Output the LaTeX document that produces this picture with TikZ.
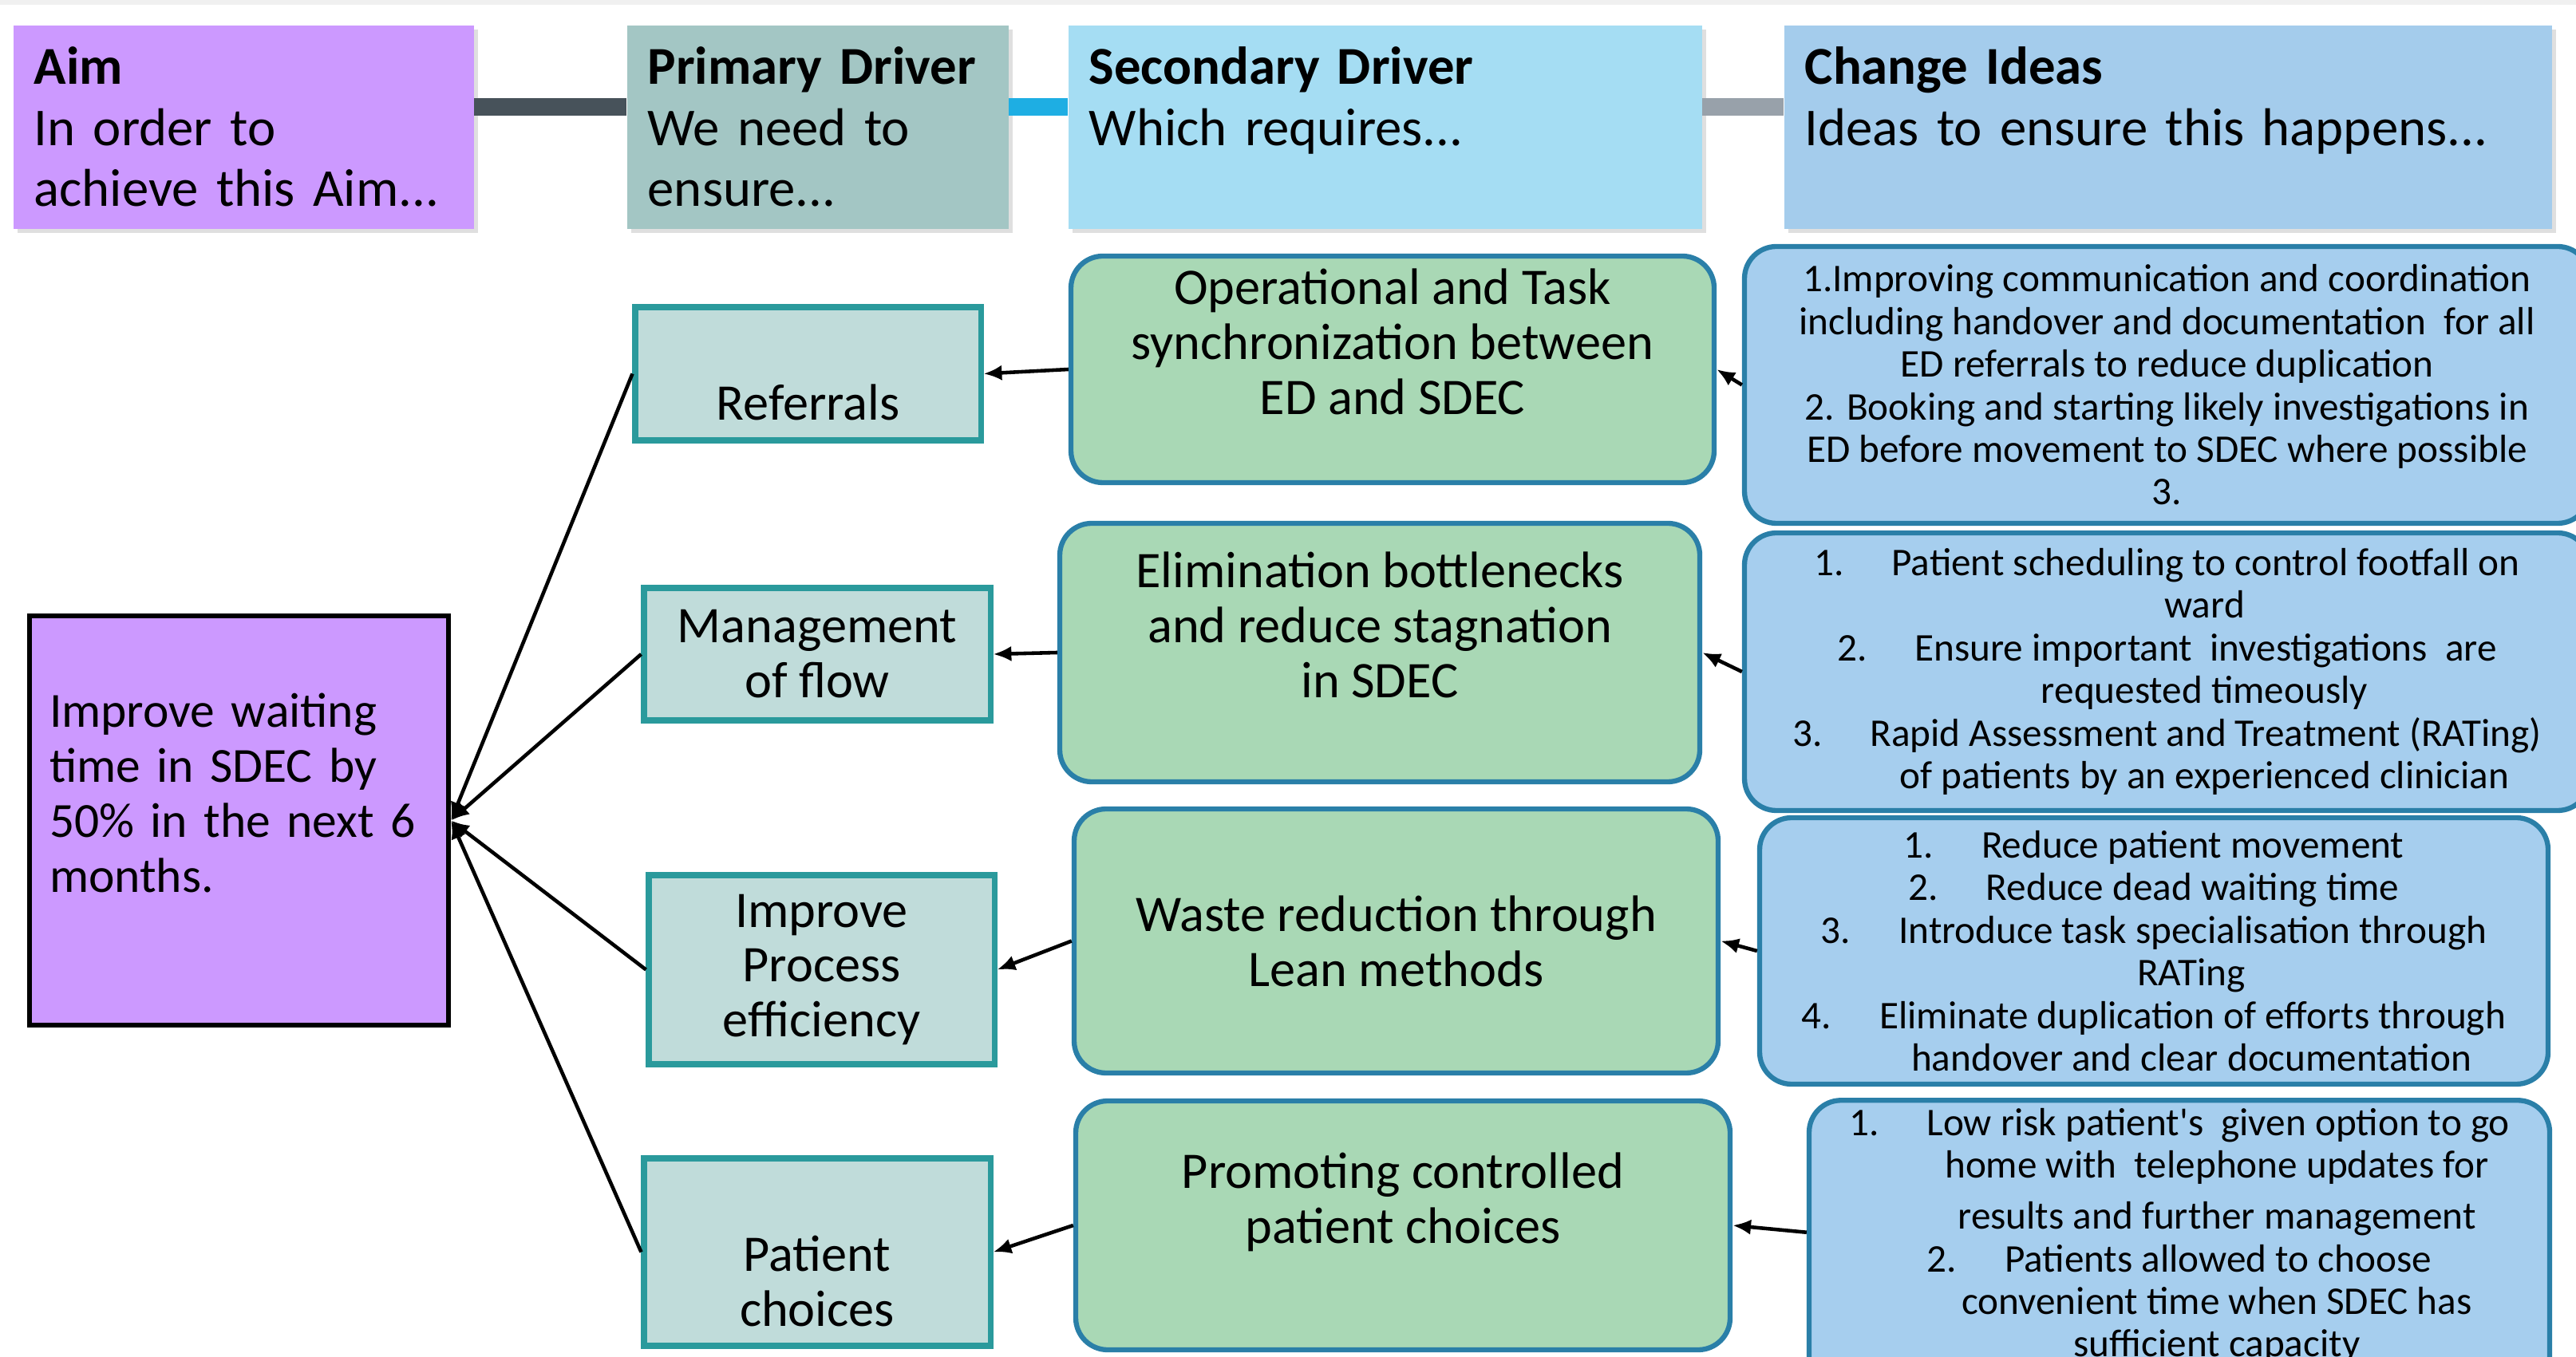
\documentclass[tikz,border=0pt]{standalone}
\usepackage{fontspec}
\setmainfont{Carlito}
\usepackage{tikz}
\usetikzlibrary{arrows.meta, positioning, shadows, calc}
\definecolor{aimpurple}{HTML}{CC99FF}
\definecolor{primhead}{HTML}{A3C6C4}
\definecolor{sechead}{HTML}{A5DDF3}
\definecolor{chghead}{HTML}{A4CCEC}
\definecolor{barslate}{HTML}{47525A}
\definecolor{barcyan}{HTML}{1EAEE3}
\definecolor{bargrey}{HTML}{98A1AA}
\definecolor{primfill}{HTML}{C0DCDA}
\definecolor{primline}{HTML}{2A9A9C}
\definecolor{secfill}{HTML}{A9D8B5}
\definecolor{chgfill}{HTML}{A6CEEE}
\definecolor{boxline}{HTML}{2A7FA8}
\newcommand{\ntab}{\hspace{0.6cm}}
\newcommand{\cind}{\hspace*{0.94cm}}

\begin{document}
\begin{tikzpicture}[
    hdr/.style={rectangle, anchor=north west, minimum height=2.55cm,
                inner xsep=0.26cm, inner ysep=0pt, align=left,
                font=\fontsize{19}{21.8}\selectfont,
                drop shadow={opacity=0.25, shadow xshift=0.05cm, shadow yshift=-0.05cm}},
    hbar/.style={line width=0.22cm},
    aimblk/.style={draw=black, line width=1.8pt, fill=aimpurple,
                   inner xsep=0.25cm, align=left,
                   font=\fontsize{17.5}{19.6}\selectfont},
    primblk/.style={draw=primline, line width=2pt, fill=primfill,
                    inner sep=0pt, align=center,
                    font=\fontsize{18.3}{19.6}\selectfont},
    secblk/.style={draw=boxline, line width=1.8pt, fill=secfill,
                   rounded corners=0.4cm, inner sep=0pt, align=center,
                   font=\fontsize{18.3}{19.6}\selectfont},
    chgblk/.style={draw=boxline, line width=1.8pt, fill=chgfill,
                   rounded corners=0.4cm, inner sep=0pt, align=center,
                   font=\fontsize{14}{15.2}\selectfont},
    arw/.style={-{Latex[length=6.5pt,width=5.5pt]}, line width=1.3pt, black}
  ]
    \useasboundingbox (0,0) rectangle (32.28,17);
    \clip (0,0) rectangle (32.28,17);
    \fill[gray!12] (0,16.94) rectangle (32.28,17);

    % Headers
    \node[hdr, fill=aimpurple, text width=5.25cm] (aimhd) at (0.16,16.69)
         {\textbf{Aim}\\In order to\\achieve this Aim...};
    \node[hdr, fill=primhead, text width=4.26cm] (primhd) at (7.85,16.69)
         {\textbf{Primary Driver}\\We need to\\ensure...};
    \node[hdr, fill=sechead, text width=7.42cm] (sechd) at (13.38,16.69)
         {\textbf{Secondary Driver}\\Which requires...\\\mbox{}};
    \node[hdr, fill=chghead, text width=9.10cm] (chghd) at (22.35,16.69)
         {\textbf{Change Ideas}\\Ideas to ensure this happens...\\\mbox{}};

    \draw[hbar, barslate] ([yshift=0.25cm]aimhd.east) -- ([yshift=0.25cm]primhd.west);
    \draw[hbar, barcyan] ([yshift=0.25cm]primhd.east) -- ([yshift=0.25cm]sechd.west);
    \draw[hbar, bargrey] ([yshift=0.25cm]sechd.east) -- ([yshift=0.25cm]chghd.west);

    % Aim
    \node[aimblk, minimum width=5.25cm, minimum height=5.13cm, text width=4.75cm]
         (aim) at (2.995,6.715)
         {Improve waiting\\time in SDEC by\\50\% in the next 6\\months.\\\mbox{}};

    % Primary drivers
    \node[primblk, minimum width=4.33cm, minimum height=1.67cm] (ref) at (10.125,12.315)
         {\strut\\Referrals};
    \node[primblk, minimum width=4.34cm, minimum height=1.66cm] (mgmt) at (10.24,8.80)
         {Management\\of flow};
    \node[primblk, minimum width=4.33cm, minimum height=2.37cm] (proc) at (10.295,4.845)
         {Improve\\Process\\efficiency};
    \node[primblk, minimum width=4.34cm, minimum height=2.35cm] (pat) at (10.24,1.305)
         {\strut\\Patient\\choices};

    % Secondary drivers
    \node[secblk, minimum width=8.06cm, minimum height=2.84cm] (op) at (17.45,12.37)
         {Operational and Task\\synchronization between\\ED and SDEC\\\mbox{}};
    \node[secblk, minimum width=8.02cm, minimum height=3.24cm] (elim) at (17.29,8.82)
         {Elimination bottlenecks\\and reduce stagnation\\in SDEC\\\mbox{}};
    \node[secblk, minimum width=8.07cm, minimum height=3.31cm] (waste) at (17.495,5.205)
         {Waste reduction through\\Lean methods};
    \node[secblk, minimum width=8.20cm, minimum height=3.12cm] (prom) at (17.58,1.64)
         {Promoting controlled\\patient choices\\\mbox{}};

    % Change ideas
    \node[chgblk, minimum width=10.59cm, minimum height=3.47cm] (ci1) at (27.155,12.175)
         {1.Improving communication and coordination\\
          including handover and documentation\ \ for all\\
          ED referrals to reduce duplication\\
          2. Booking and starting likely investigations in\\
          ED before movement to SDEC where possible\\
          3.};
    \node[chgblk, minimum width=10.59cm, minimum height=3.48cm] (ci2) at (27.155,8.58)
         {1.\ntab Patient scheduling to control footfall on\\
          \cind ward\\
          2.\ntab Ensure important\ \ investigations\ \ are\\
          \cind requested timeously\\
          3.\ntab Rapid Assessment and Treatment (RATing)\\
          \cind of patients by an experienced clinician};
    \node[chgblk, minimum width=9.88cm, minimum height=3.34cm] (ci3) at (26.99,5.08)
         {1.\ntab Reduce patient movement\\
          2.\ntab Reduce dead waiting time\\
          3.\ntab Introduce task specialisation through\\
          \cind RATing\\
          4.\ntab Eliminate duplication of efforts through\\
          \cind handover and clear documentation};
    \node[chgblk, minimum width=9.28cm, minimum height=3.85cm] (ci4) at (27.31,1.2825)
         {1.\ntab Low risk patient\textquotesingle s\ \ given option to go\\
          \cind home with\ \ telephone updates for\\[3pt]
          \cind results and further management\\
          2.\ntab Patients allowed to choose\\
          \cind convenient time when SDEC has\\
          \cind sufficient capacity\\
          \mbox{}};

    % Arrows
    \draw[arw] (ci1.west) -- (op.east);
    \draw[arw] (ci2.west) -- (elim.east);
    \draw[arw] (ci3.west) -- (waste.east);
    \draw[arw] ([yshift=0.27cm]ci4.west) -- (prom.east);

    \draw[arw] (op.west)    -- (ref.east);
    \draw[arw] (elim.west)  -- (mgmt.east);
    \draw[arw] (waste.west) -- (proc.east);
    \draw[arw] (prom.west)  -- (pat.east);

    \draw[arw] (ref.west)  -- (aim.east);
    \draw[arw] (mgmt.west) -- (aim.east);
    \draw[arw] (proc.west) -- (aim.east);
    \draw[arw] (pat.west)  -- (aim.east);
  \end{tikzpicture}
\end{document}
